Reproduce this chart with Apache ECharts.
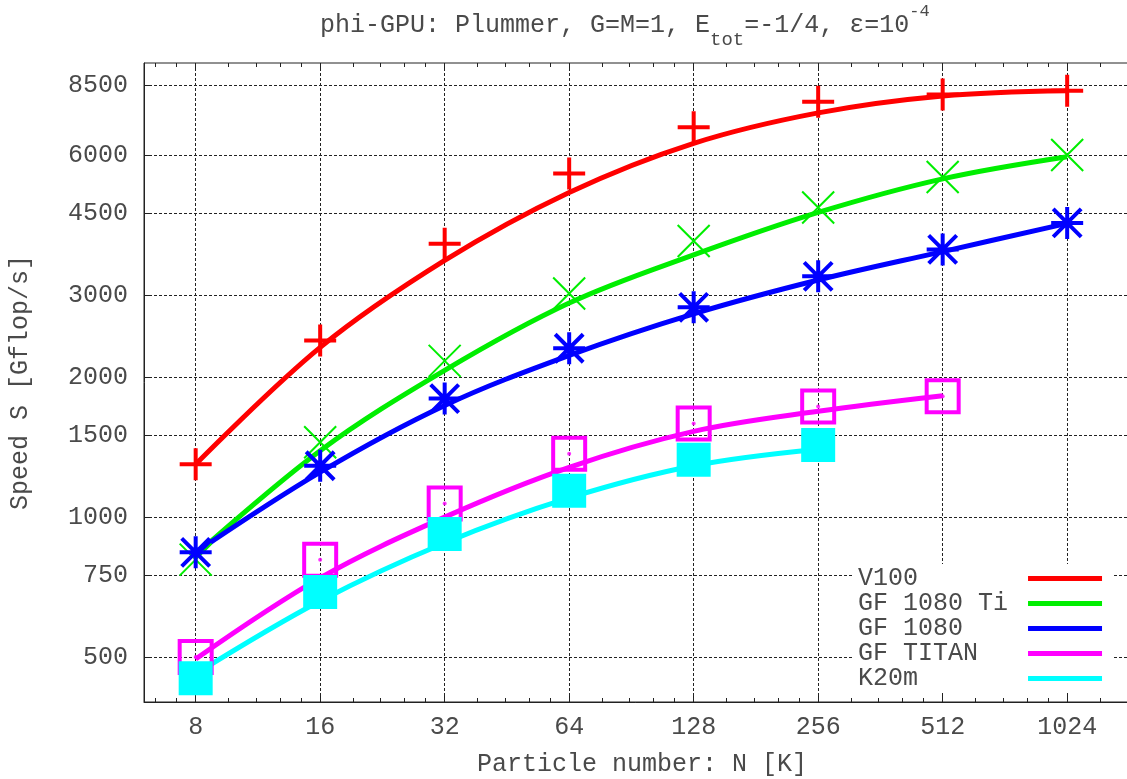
<!DOCTYPE html>
<html>
<head>
<meta charset="utf-8">
<title>phi-GPU: Plummer</title>
<script src="https://cdn.jsdelivr.net/npm/echarts@6/dist/echarts.min.js"></script>
<style>
html, body { margin: 0; padding: 0; background: #fff; }
#main { width: 1127px; height: 779px; }
</style>
</head>
<body>
<div id="main"></div>
<script>
// particle number N [K]
var nK = [8, 16, 32, 64, 128, 256, 512, 1024];
var minorTicks = [6.4, 7.2, 9.6, 11.2, 12.8, 14.4, 19.2, 22.4, 25.6, 28.8,
  38.4, 44.8, 51.2, 57.6, 76.8, 89.6, 102.4, 115.2, 153.6, 179.2, 204.8, 230.4,
  307.2, 358.4, 409.6, 460.8, 614.4, 716.8, 819.2, 921.6, 1228.8, 1433.6];
var yTicks = [500, 750, 1000, 1500, 2000, 3000, 4500, 6000, 8500];

// measured speed (points) and fitted curve, Gflop/s
var v100Pts = [1300, 2400, 3880, 5490, 6910, 7840, 8130, 8280];
var v100Fit = [1300, 2320, 3570, 5000, 6380, 7420, 8070, 8280];
var ti1080Pts = [810, 1450, 2170, 3030, 3930, 4640, 5400, 6020];
var ti1080Fit = [830, 1390, 2070, 2890, 3670, 4530, 5350, 5970];
var gf1080Pts = [840, 1290, 1800, 2310, 2830, 3300, 3770, 4300];
var gf1080Fit = [840, 1250, 1740, 2230, 2740, 3240, 3730, 4290];
var titanPts = [500, 810, 1070, 1370, 1590, 1730, 1820];
var titanFit = [495, 740, 1000, 1280, 1530, 1690, 1825];
var k20mPts = [450, 690, 920, 1140, 1330, 1430];
var k20mFit = [460, 660, 880, 1100, 1290, 1400];

var FONT = '"Liberation Mono", "DejaVu Sans Mono", monospace';
var TXT = '#4a4a4a';
var AX = '#222';

var plusPath = 'path://M0,16L32,16M16,0L16,32';
var crossPath = 'path://M0,0L32,32M32,0L0,32';
var starPath = 'path://M0,16L32,16M16,0L16,32M2,2L30,30M30,2L2,30';

function pts(vals) {
  return vals.map(function (v, i) { return [nK[i], v]; });
}

var gpus = [
  { name: 'V100', color: '#ff0000', pts: v100Pts, fit: v100Fit, symbol: plusPath, size: 32, fill: 'transparent', bw: 4 },
  { name: 'GF 1080 Ti', color: '#00ee00', pts: ti1080Pts, fit: ti1080Fit, symbol: crossPath, size: 32, fill: 'transparent', bw: 2 },
  { name: 'GF 1080', color: '#0000ff', pts: gf1080Pts, fit: gf1080Fit, symbol: starPath, size: 32, fill: 'transparent', bw: 4 },
  { name: 'GF TITAN', color: '#ff00ff', pts: titanPts, fit: titanFit, symbol: 'rect', size: 32, fill: 'transparent', bw: 4 },
  { name: 'K20m', color: '#00ffff', pts: k20mPts, fit: k20mFit, symbol: 'rect', size: 34, fill: '#00ffff', bw: 0 }
];

var series = [];
gpus.forEach(function (g) {
  series.push({
    type: 'line', name: g.name, data: pts(g.fit), smooth: 0.35,
    showSymbol: false, symbol: 'none', silent: true, z: 2,
    lineStyle: { color: g.color, width: 5 }, itemStyle: { color: g.color }
  });
});
gpus.forEach(function (g) {
  series.push({
    type: 'scatter', name: g.name, data: pts(g.pts), symbol: g.symbol,
    symbolSize: g.size, silent: true, z: 3,
    itemStyle: { color: g.fill, borderColor: g.color, borderWidth: g.bw, opacity: 1 }
  });
});
// small centre dot of the open squares
series.push({
  type: 'scatter', name: 'GF TITAN', data: pts(titanPts), symbol: 'circle',
  symbolSize: 4, silent: true, z: 3, itemStyle: { color: '#ff00ff' }
});

function xAx(pos, ticks, len, main) {
  return {
    type: 'log', logBase: 2, min: 6, max: 1536, position: pos,
    axisLine: { show: main, lineStyle: { color: AX, width: 1 } },
    axisTick: { show: true, inside: true, length: len, customValues: ticks, lineStyle: { color: AX } },
    axisLabel: main && pos === 'bottom' ? {
      customValues: nK, margin: 13, fontFamily: FONT, fontSize: 25, color: TXT,
      formatter: function (v) { return String(Math.round(v)); }
    } : { show: false },
    splitLine: { show: main && pos === 'bottom', lineStyle: { color: AX, type: [3, 2], width: 1 } },
    minorTick: { show: false },
    name: main && pos === 'bottom' ? 'Particle number: N [K]' : '',
    nameLocation: 'middle', nameGap: 50,
    nameTextStyle: { fontFamily: FONT, fontSize: 25, color: TXT }
  };
}

var chart = echarts.init(document.getElementById('main'));
var option = {
  animation: false,
  backgroundColor: '#fff',
  title: {
    text: '{m|phi-GPU: Plummer, G=M=1, E}{s|tot}{m|=-1/4, \u03b5=10}{p|-4}',
    left: 320, top: 2, padding: 0,
    textStyle: {
      fontWeight: 'normal', fontFamily: FONT, color: TXT,
      rich: {
        m: { fontFamily: FONT, fontSize: 25, color: TXT, fontWeight: 'normal' },
        s: { fontFamily: FONT, fontSize: 19, color: TXT, fontWeight: 'normal', padding: [28, 0, 0, 0] },
        p: { fontFamily: FONT, fontSize: 17, color: TXT, fontWeight: 'normal', padding: [0, 0, 28, 0] }
      }
    }
  },
  grid: {
    left: 144, top: 63, right: -13, bottom: 77,
    show: true, borderColor: AX, borderWidth: 1,
    containLabel: false, outerBoundsMode: 'none'
  },
  legend: {
    data: gpus.map(function (g) { return { name: g.name, itemStyle: { color: g.color } }; }),
    orient: 'vertical', align: 'right', left: 853, top: 564,
    icon: 'rect', itemWidth: 74, itemHeight: 5, itemGap: 0,
    padding: [2, 11, 2, 5], backgroundColor: '#fff', selectedMode: false,
    textStyle: { fontFamily: FONT, fontSize: 25, color: TXT, lineHeight: 25 },
    formatter: function (n) { return n + '           '.slice(n.length); }
  },
  xAxis: [
    xAx('bottom', nK, 8, true),
    xAx('bottom', minorTicks, 4, false),
    xAx('top', nK, 8, false),
    xAx('top', minorTicks, 4, false)
  ],
  yAxis: {
    type: 'log', logBase: 10, min: 400, max: 9500,
    axisLine: { show: true, lineStyle: { color: AX, width: 1 } },
    axisTick: { show: true, inside: true, length: 8, customValues: yTicks, lineStyle: { color: AX } },
    axisLabel: {
      customValues: yTicks, margin: 16, fontFamily: FONT, fontSize: 25, color: TXT,
      formatter: function (v) { return String(Math.round(v)); }
    },
    splitLine: { show: true, lineStyle: { color: AX, type: [3, 2], width: 1 } },
    minorTick: { show: false },
    name: 'Speed S [Gflop/s]', nameLocation: 'middle', nameGap: 111, nameRotate: 90,
    nameTextStyle: { fontFamily: FONT, fontSize: 25, color: TXT }
  },
  series: series
};
chart.setOption(option);
</script>
</body>
</html>
